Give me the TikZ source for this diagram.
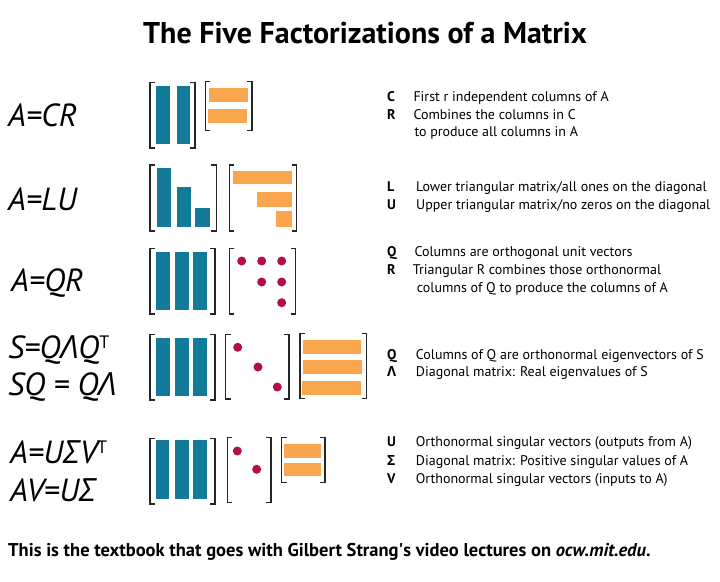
\documentclass[tikz,border=0pt]{standalone}
\usepackage{fontspec}
\setmainfont{PT Sans}
\newfontfamily\grkfont{Open Sans}
\definecolor{strangblue}{RGB}{20,122,154}
\definecolor{strangorange}{RGB}{249,166,78}
\definecolor{strangred}{RGB}{180,14,72}

\begin{document}
\begin{tikzpicture}[x=1pt, y=-1pt,
  colbar/.style={fill=strangblue},
  rowbar/.style={fill=strangorange},
  entry/.style={fill=strangred},
  brk/.style={line width=1.4pt, draw=black!85},
  factor/.style={anchor=base west, inner sep=0pt, font=\fontsize{32}{32}\selectfont\itshape},
  key/.style={anchor=base west, inner sep=0pt, font=\fontsize{14}{14}\selectfont\bfseries},
  note/.style={anchor=base west, inner sep=0pt, font=\fontsize{14}{14}\selectfont}]
  \useasboundingbox (0,0) rectangle (720,581);

  % title
  \node[anchor=base, inner sep=0pt, font=\fontsize{30}{30}\selectfont\bfseries] (title) at (365,43.3)
    {The Five Factorizations of a Matrix};

  % brackets round every factor
  \foreach \xa/\ya/\xb/\yb in {150/82.7/195/148, 205.3/81.7/252/130.7,
      150/165/216.3/231, 229.3/165/296.7/231,
      150/248.3/215/314, 229.3/248.3/295.7/314,
      150/334.3/215/400, 225.7/334.3/289/399, 300/333.3/366.7/398.3,
      150/438.3/215/504, 227.3/437.7/271/502.7, 281.7/437.7/325/482.3} {
    \draw[brk] (\xa+5,\ya) -| (\xa,\yb) -- (\xa+5,\yb);
    \draw[brk] (\xb-5,\ya) -| (\xb,\yb) -- (\xb-5,\yb);
  }

  % A = CR
  \fill[colbar] (155.7,85.7) rectangle (170,144);
  \fill[colbar] (176.7,85.7) rectangle (190,144);
  \fill[rowbar] (209,87.7) rectangle (247.7,101.7);
  \fill[rowbar] (208,109) rectangle (246.7,122.7);

  % A = LU
  \fill[colbar] (156.7,167.7) rectangle (171,226.7);
  \fill[colbar] (176.7,186.7) rectangle (191,226.5);
  \fill[colbar] (195,207.7) rectangle (210,226.5);
  \fill[rowbar] (232.7,170.7) rectangle (292.3,184);
  \fill[rowbar] (256.7,191.7) rectangle (292.3,207.3);
  \fill[rowbar] (275.7,211) rectangle (292.3,227);

  % A = QR
  \foreach \x in {155.7,175,193.3}
    \fill[colbar] (\x,251.7) rectangle ++(14,58.3);
  \foreach \x/\y in {241.7/261, 261.7/261, 281.7/261, 261.7/282, 281.7/282, 281.7/302.7}
    \fill[entry] (\x,\y) circle (4.5);

  % S = Q Lambda Q^T
  \foreach \x in {155.7,175,193.3}
    \fill[colbar] (\x,337.7) rectangle ++(14,58.3);
  \foreach \x/\y in {237.7/347.3, 258/367, 277.3/387}
    \fill[entry] (\x,\y) circle (4.5);
  \fill[rowbar] (303.3,340) rectangle (360.7,354);
  \fill[rowbar] (303.3,360) rectangle (361.7,374);
  \fill[rowbar] (302.3,381) rectangle (360.7,395);

  % A = U Sigma V^T
  \foreach \x in {155.7,175,193.3}
    \fill[colbar] (\x,440) rectangle ++(13.5,59);
  \foreach \x/\y in {237.3/451, 256.7/469.3}
    \fill[entry] (\x,\y) circle (4.5);
  \fill[rowbar] (284,444) rectangle (321,457.7);
  \fill[rowbar] (284,462.7) rectangle (321,476);

  % factorizations on the left
  \node[factor] (cr) at (8,126) {A=CR};
  \node[factor] (lu) at (8,210) {A=LU};
  \node[factor] (qr) at (11,291.7) {A=QR};
  \node[factor] (sym) at (8,358) {S=Q{\grkfont\itshape Λ}Q\raisebox{10pt}{\fontsize{18}{18}\selectfont\upshape T}};
  \node[factor] (symq) at (8,395) {SQ = Q{\grkfont\itshape Λ}};
  \node[factor] (svd) at (10,463) {A=U{\grkfont\itshape Σ}V\raisebox{10pt}{\fontsize{18}{18}\selectfont\upshape T}};
  \node[factor] (svdv) at (10,501) {AV=U{\grkfont\itshape Σ}};

  % notes on the right
  \node[key] (kc) at (387,101.7) {C};
  \node[note] (nc) at (413.3,101.7) {First r independent columns of A};
  \node[key] (kr) at (387,119) {R};
  \node[note] (nr) at (413.3,119) {Combines the columns in C};
  \node[note] (nr2) at (414.3,136.7) {to produce all columns in A};

  \node[key] (kl) at (387,191.7) {L};
  \node[note] (nl) at (416,191.7) {Lower triangular matrix/all ones on the diagonal};
  \node[key] (ku) at (387,209.3) {U};
  \node[note] (nu) at (416,209.3) {Upper triangular matrix/no zeros on the diagonal};

  \node[key] (kq) at (387,256.7) {Q};
  \node[note] (nq) at (414.3,256.7) {Columns are orthogonal unit vectors};
  \node[key] (kqr) at (387,274) {R};
  \node[note] (nqr) at (412.7,274) {Triangular R combines those orthonormal};
  \node[note] (nqr2) at (416.7,292.3) {columns of Q to produce the columns of A};

  \node[key] (ks) at (387,359.3) {Q};
  \node[note] (ns) at (415.7,359.3) {Columns of Q are orthonormal eigenvectors of S};
  \node[key] (kl2) at (387,376.7) {\grkfont\bfseries Λ};
  \node[note] (nl2) at (415.7,376.7) {Diagonal matrix: Real eigenvalues of S};

  \node[key] (kuu) at (387,446) {U};
  \node[note] (nuu) at (415.7,446) {Orthonormal singular vectors (outputs from A)};
  \node[key] (ksig) at (387,465) {\grkfont\bfseries Σ};
  \node[note] (nsig) at (415.7,465) {Diagonal matrix: Positive singular values of A};
  \node[key] (kv) at (387,483) {V};
  \node[note] (nv) at (415.7,483) {Orthonormal singular vectors (inputs to A)};

  % footer
  \node[anchor=base west, inner sep=0pt, font=\fontsize{18.5}{18.5}\selectfont\bfseries] (foot) at (8,556)
    {This is the textbook that goes with Gilbert Strang\textquotesingle s video lectures on \textit{ocw.mit.edu}.};
\end{tikzpicture}
\end{document}
